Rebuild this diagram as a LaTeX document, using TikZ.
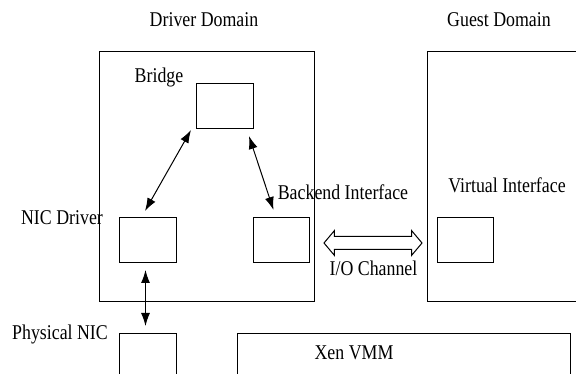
\documentclass[tikz,border=0pt]{standalone}
\usepackage{fontspec}
\setmainfont{Liberation Serif}[FakeStretch=0.85]
\usetikzlibrary{arrows.meta,shapes.arrows,positioning}
\begin{document}
\begin{tikzpicture}[x=1pt,y=-1pt,>={Latex[length=13pt,width=9pt]},
	box/.style={draw,line width=1pt,inner sep=0pt,anchor=north west},
	lbl/.style={font=\fontsize{21}{21}\selectfont,inner sep=0pt,anchor=base},
	link/.style={<->,line width=1pt}]
	\useasboundingbox (0,0) rectangle (576,374);
	% domains
	\node[box,minimum width=215pt,minimum height=250pt] (driver) at (99,51) {};
	\node[box,minimum width=200pt,minimum height=250pt] (guest) at (427,51) {};
	% inner boxes
	\node[box,minimum width=57pt,minimum height=45pt] (bridge) at (196,83) {};
	\node[box,minimum width=57pt,minimum height=45pt] (nicdrv) at (119,217) {};
	\node[box,minimum width=56pt,minimum height=45pt] (backend) at (253,217) {};
	\node[box,minimum width=56pt,minimum height=45pt] (virtual) at (437,217) {};
	\node[box,minimum width=57pt,minimum height=60pt] (phys) at (119,333) {};
	\node[box,minimum width=333pt,minimum height=60pt] (xen) at (237,333) {};
	% labels
	\node[lbl] (ldriver) at (204,26.7) {Driver Domain};
	\node[lbl] (lguest) at (499,26.7) {Guest Domain};
	\node[lbl] (lbridge) at (159,82.7) {Bridge};
	\node[lbl] (lnicdrv) at (62,224.3) {NIC Driver};
	\node[lbl] (lbackend) at (343,199.3) {Backend Interface};
	\node[lbl] (lvirtual) at (507,192.7) {Virtual Interface};
	\node[lbl] (lphys) at (60,339.3) {Physical NIC};
	\node[lbl] (lxen) at (354,359.3) {Xen VMM};
	% i/o channel
	\node[draw,line width=1pt,double arrow,double arrow head extend=6pt,
		double arrow tip angle=100,minimum height=98pt,inner sep=6pt]
		(io) at (373,243) {};
	\node[lbl] (lio) at (373.5,275.7) {I/O Channel};
	% connections
	\draw[link] ([xshift=-5pt,yshift=-1pt]bridge.south west)
		-- ([xshift=-3pt,yshift=6pt]nicdrv.north);
	\draw[link] ([xshift=-5pt,yshift=-7pt]bridge.south east)
		-- ([xshift=-8pt,yshift=7pt]backend.north);
	\draw[link] ([xshift=-2.5pt,yshift=-7pt]nicdrv.south)
		-- ([xshift=-2.5pt,yshift=7pt]phys.north);
\end{tikzpicture}
\end{document}
